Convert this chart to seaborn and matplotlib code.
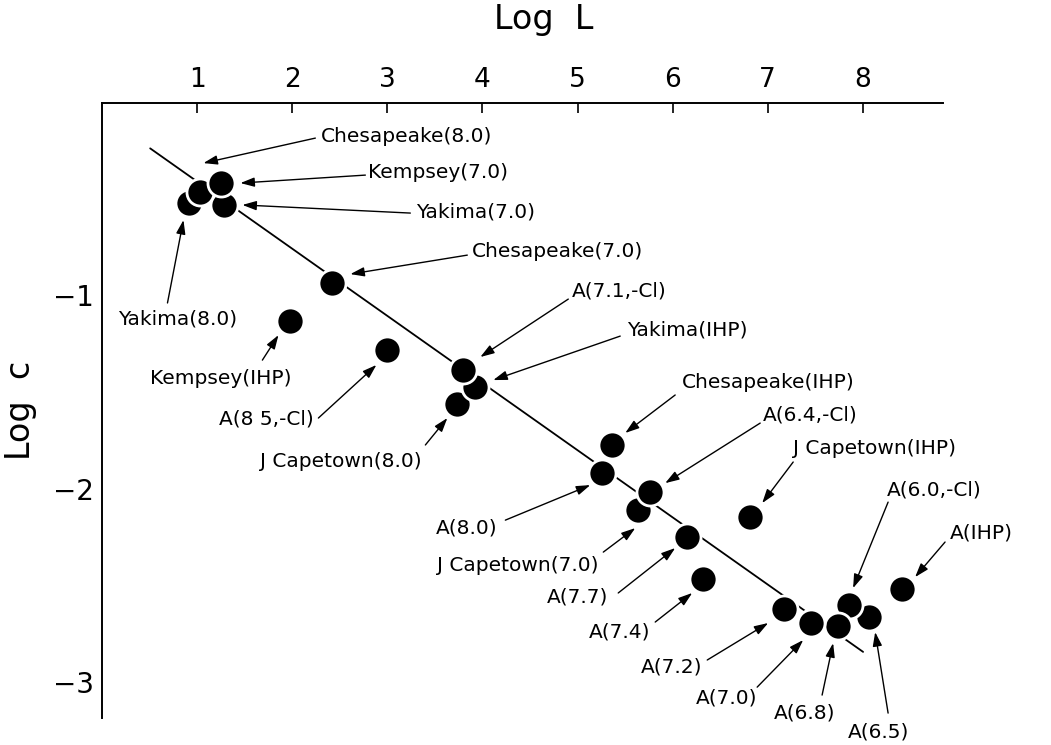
"""Log c vs Log L scatter with labelled samples and fitted line."""

import matplotlib
matplotlib.use("Agg")
import matplotlib.pyplot as plt
import seaborn as sns
import pandas as pd

sns.set_theme(style="white")
plt.rcParams["font.family"] = ["DejaVu Sans"]
plt.rcParams.update({"text.color": "black", "axes.labelcolor": "black",
                     "xtick.color": "black", "ytick.color": "black"})

# ── data ────────────────────────────────────────────────────────────────
# order matters: later points are drawn on top of earlier ones
samples = [
    "Yakima(8.0)", "Yakima(7.0)", "Chesapeake(8.0)", "Kempsey(7.0)",
    "Chesapeake(7.0)", "Kempsey(IHP)", "A(8 5,-Cl)",
    "J Capetown(8.0)", "Yakima(IHP)", "A(7.1,-Cl)",
    "Chesapeake(IHP)", "A(8.0)", "J Capetown(7.0)", "A(6.4,-Cl)",
    "A(7.7)", "A(7.4)", "J Capetown(IHP)",
    "A(6.5)", "A(6.0,-Cl)", "A(6.8)", "A(7.0)", "A(7.2)", "A(IHP)",
]
log_L = [
    0.91, 1.28, 1.03, 1.25,
    2.42, 1.98, 3.00,
    3.73, 3.92, 3.80,
    5.36, 5.26, 5.64, 5.76,
    6.15, 6.32, 6.81,
    8.06, 7.85, 7.74, 7.46, 7.17, 8.41,
]
log_c = [
    -0.527, -0.535, -0.467, -0.423,
    -0.937, -1.133, -1.284,
    -1.563, -1.473, -1.387,
    -1.774, -1.917, -2.110, -2.015,
    -2.251, -2.468, -2.148,
    -2.661, -2.600, -2.709, -2.692, -2.623, -2.519,
]

# fitted line end points
fit_L = [0.506, 8.003]
fit_c = [-0.243, -2.842]

df = pd.DataFrame({"sample": samples, "log_L": log_L, "log_c": log_c})

# ── label layout (data units): text anchor + alignment, arrow start, tip ─
labels = {
    "Chesapeake(8.0)": ((2.296, -0.184), "left",   (2.243, -0.190), (1.066, -0.319)),
    "Kempsey(7.0)":    ((2.800, -0.370), "left",   (2.769, -0.381), (1.455, -0.422)),
    "Yakima(7.0)":     ((3.305, -0.571), "left",   (3.242, -0.577), (1.476, -0.535)),
    "Chesapeake(7.0)": ((3.894, -0.773), "left",   (3.841, -0.794), (2.611, -0.892)),
    "Yakima(8.0)":     ((0.790, -1.124), "center", (0.688, -1.041), (0.856, -0.613)),
    "Kempsey(IHP)":    ((1.245, -1.429), "center", (1.686, -1.336), (1.855, -1.207)),
    "A(8 5,-Cl)":      ((2.230, -1.640), "right",  (2.275, -1.635), (2.885, -1.361)),
    "A(7.1,-Cl)":      ((4.945, -0.979), "left",   (4.903, -1.021), (3.978, -1.320)),
    "Yakima(IHP)":     ((5.523, -1.181), "left",   (5.449, -1.212), (4.114, -1.439)),
    "J Capetown(8.0)": ((3.365, -1.857), "right",  (3.400, -1.774), (3.631, -1.635)),
    "Chesapeake(IHP)": ((6.101, -1.454), "left",   (6.027, -1.516), (5.502, -1.712)),
    "A(6.4,-Cl)":      ((6.953, -1.620), "left",   (6.921, -1.661), (5.922, -1.971)),
    "J Capetown(IHP)": ((7.268, -1.790), "left",   (7.268, -1.862), (6.942, -2.074)),
    "A(6.0,-Cl)":      ((8.256, -2.007), "left",   (8.266, -2.069), (7.898, -2.513)),
    "A(IHP)":          ((8.918, -2.229), "left",   (8.865, -2.275), (8.550, -2.456)),
    "A(8.0)":          ((4.156, -2.203), "right",  (4.241, -2.162), (5.134, -1.981)),
    "J Capetown(7.0)": ((5.218, -2.394), "right",  (5.271, -2.327), (5.607, -2.203)),
    "A(7.7)":          ((5.323, -2.559), "right",  (5.428, -2.538), (6.027, -2.306)),
    "A(7.4)":          ((5.764, -2.740), "right",  (5.817, -2.688), (6.206, -2.538)),
    "A(7.2)":          ((6.311, -2.921), "right",  (6.364, -2.884), (7.005, -2.693)),
    "A(7.0)":          ((6.889, -3.081), "right",  (6.889, -3.024), (7.373, -2.781)),
    "A(6.8)":          ((7.389, -3.158), "center", (7.572, -3.065), (7.688, -2.797)),
    "A(6.5)":          ((8.166, -3.256), "center", (8.266, -3.158), (8.130, -2.740)),
}

fig = plt.figure(figsize=(10.51, 7.45), dpi=100)
ax = fig.add_axes([0.0971, 0.0358, 0.8002, 0.8259])

sns.lineplot(x=fit_L, y=fit_c, color="black", linewidth=1.3, ax=ax, zorder=1)
sns.scatterplot(
    data=df, x="log_L", y="log_c", s=380, color="black",
    edgecolor="white", linewidth=2, ax=ax, zorder=2, legend=False,
)

for name, (txt, ha, start, tip) in labels.items():
    ax.text(txt[0], txt[1], name, ha=ha, va="center", fontsize=14.5,
            color="black", clip_on=False)
    ax.annotate(
        "", xy=tip, xytext=start, annotation_clip=False,
        arrowprops=dict(arrowstyle="-|>,head_length=0.6,head_width=0.2",
                        color="black", lw=1.0, shrinkA=0, shrinkB=0,
                        mutation_scale=14),
    )

ax.set_xlim(0.0, 8.844)
ax.set_ylim(-3.185, -0.009)
ax.set_xticks([1, 2, 3, 4, 5, 6, 7, 8])
ax.set_yticks([-1, -2, -3])

ax.xaxis.tick_top()
ax.xaxis.set_label_position("top")
ax.tick_params(axis="x", direction="in", length=7, width=1.2, pad=7,
               labelsize=19)
ax.tick_params(axis="y", direction="in", length=7, width=1.2, pad=6,
               labelsize=20)

for side in ["right", "bottom"]:
    ax.spines[side].set_visible(False)
for side in ["top", "left"]:
    ax.spines[side].set_color("black")
    ax.spines[side].set_linewidth(1.4)

ax.set_xlabel("Log  L", fontsize=24)
ax.xaxis.set_label_coords(0.525, 1.135)
ax.xaxis.label.set_va("center")
ax.set_ylabel("Log  c", fontsize=24)
ax.yaxis.set_label_coords(-0.0966, 0.5)
ax.yaxis.label.set_va("center")

fig.savefig("out.png", dpi=100)
